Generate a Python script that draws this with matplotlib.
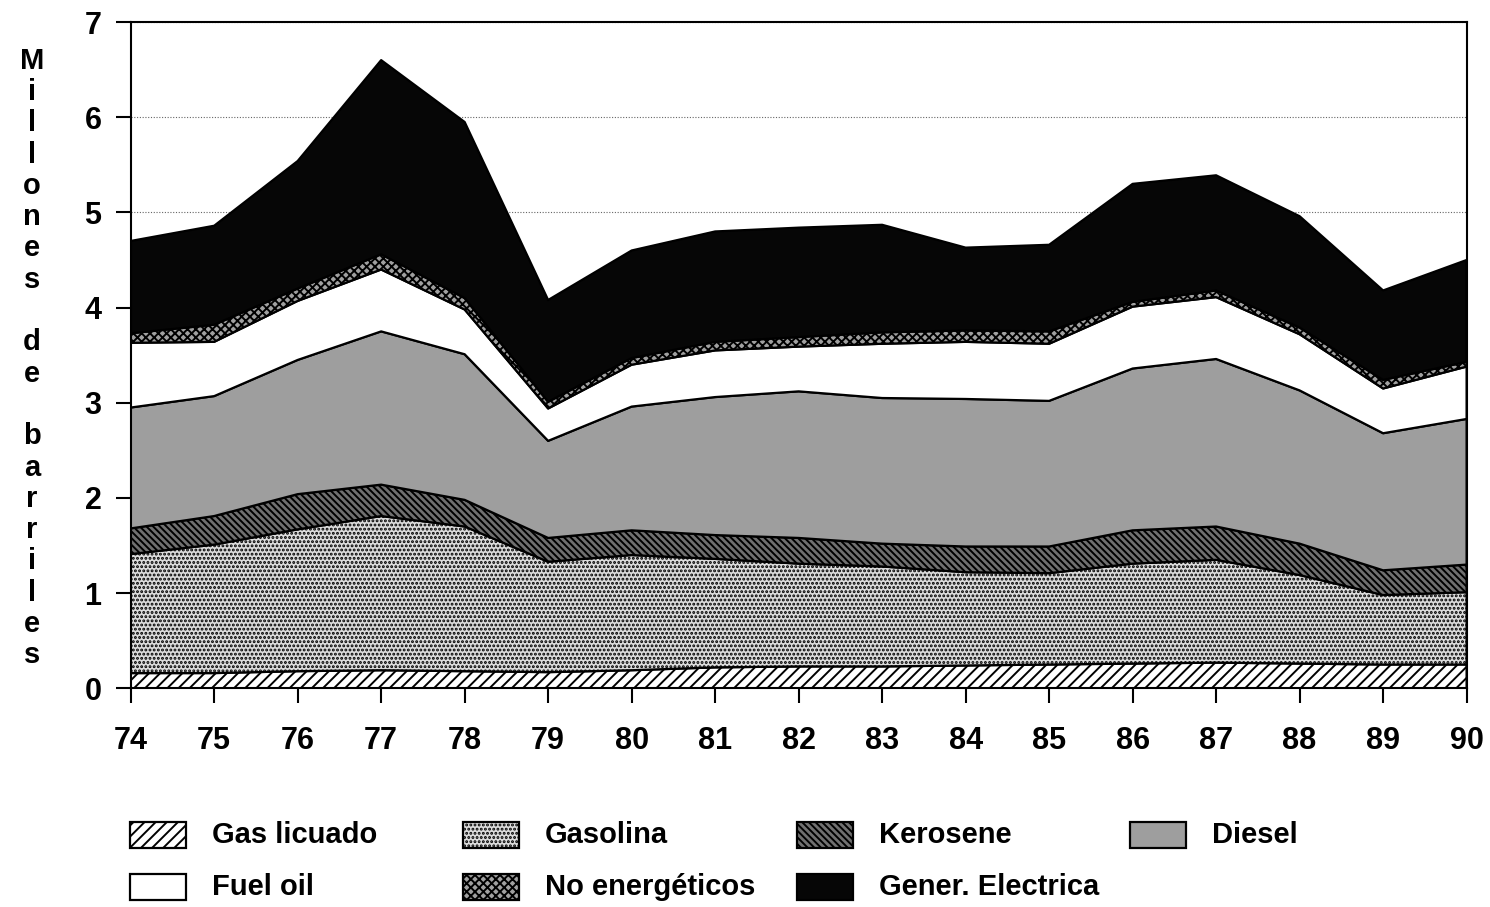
import matplotlib
matplotlib.use("Agg")
import matplotlib.pyplot as plt
from matplotlib.patches import Rectangle

plt.rcParams['font.family'] = ['Liberation Sans', 'DejaVu Sans']
plt.rcParams['font.weight'] = 'bold'
plt.rcParams['hatch.linewidth'] = 1.4

# Consumo de derivados (millones de barriles), 1974-1990
anios = [74, 75, 76, 77, 78, 79, 80, 81, 82, 83, 84, 85, 86, 87, 88, 89, 90]
gas_licuado = [0.16, 0.16, 0.18, 0.19, 0.18, 0.17, 0.19, 0.22, 0.23, 0.23, 0.24, 0.25, 0.26, 0.27, 0.26, 0.25, 0.25]
gasolina = [1.25, 1.35, 1.49, 1.62, 1.52, 1.16, 1.21, 1.14, 1.08, 1.05, 0.98, 0.96, 1.05, 1.08, 0.93, 0.73, 0.76]
kerosene = [0.27, 0.30, 0.37, 0.33, 0.28, 0.25, 0.26, 0.25, 0.27, 0.24, 0.27, 0.28, 0.35, 0.35, 0.33, 0.26, 0.29]
diesel = [1.27, 1.26, 1.41, 1.61, 1.53, 1.02, 1.30, 1.45, 1.54, 1.53, 1.55, 1.53, 1.70, 1.76, 1.61, 1.44, 1.53]
fuel_oil = [0.68, 0.57, 0.62, 0.65, 0.47, 0.34, 0.44, 0.49, 0.47, 0.57, 0.60, 0.60, 0.65, 0.65, 0.59, 0.47, 0.55]
no_energeticos = [0.10, 0.18, 0.13, 0.16, 0.12, 0.07, 0.07, 0.09, 0.10, 0.12, 0.12, 0.13, 0.05, 0.07, 0.07, 0.09, 0.05]
gener_electrica = [0.97, 1.04, 1.34, 2.04, 1.85, 1.07, 1.13, 1.16, 1.15, 1.13, 0.87, 0.91, 1.24, 1.21, 1.17, 0.94, 1.07]

series = [gas_licuado, gasolina, kerosene, diesel, fuel_oil, no_energeticos, gener_electrica]
nombres = ['Gas licuado', 'Gasolina', 'Kerosene', 'Diesel',
           'Fuel oil', 'No energéticos', 'Gener. Electrica']
# (relleno, trama)
estilos = [('white', '///'),
           ('#dcdcdc', '....'),
           ('#707070', '\\\\\\\\\\'),
           ('#9e9e9e', ''),
           ('white', ''),
           ('#a0a0a0', 'xxxx'),
           ('#060606', '')]

fig = plt.figure(figsize=(14.9, 9.07), dpi=100)
ax = fig.add_axes([0.0877, 0.2411, 0.8966, 0.7346])

polys = ax.stackplot(anios, *series, zorder=2)
for p, (fc, h) in zip(polys, estilos):
    p.set_facecolor(fc)
    p.set_edgecolor('black')
    p.set_hatch(h)
    p.set_linewidth(1.6)

ax.set_xlim(74, 90)
ax.set_ylim(0, 7)
ax.set_xticks(anios)
ax.set_xticklabels([str(a) for a in anios])
ax.set_yticks(range(8))
ax.tick_params(axis='both', direction='out', length=11, width=1.5,
               labelsize=22, colors='black')
ax.tick_params(axis='x', pad=16)
ax.tick_params(axis='y', pad=10)
ax.yaxis.grid(True, linestyle=(0, (1, 1.5)), color='#666666', linewidth=0.8, zorder=1)
ax.set_axisbelow(True)
for s in ax.spines.values():
    s.set_linewidth(1.5)
    s.set_zorder(3)

# etiqueta vertical, una letra por linea
etiqueta = 'Millones de barriles'
fig.text(32 / 1490, 1 - 358 / 907, '\n'.join(etiqueta), ha='center', va='center',
         multialignment='center', fontsize=21, fontweight='bold', linespacing=1.15)

# leyenda dibujada a mano en dos filas
col_x = [130, 463, 797, 1130]
filas_y = [835, 887]
for i, (nombre, (fc, h)) in enumerate(zip(nombres, estilos)):
    fila, col = divmod(i, 4)
    x0 = col_x[col]
    yc = filas_y[fila]
    r = Rectangle((x0 / 1490, 1 - (yc + 13) / 907), 56 / 1490, 26 / 907,
                  transform=fig.transFigure, facecolor=fc, edgecolor='black',
                  hatch=h, linewidth=1.6)
    fig.add_artist(r)
    fig.text((x0 + 82) / 1490, 1 - yc / 907, nombre, ha='left', va='center',
             fontsize=21, fontweight='bold')

fig.savefig('out.png', dpi=100)
